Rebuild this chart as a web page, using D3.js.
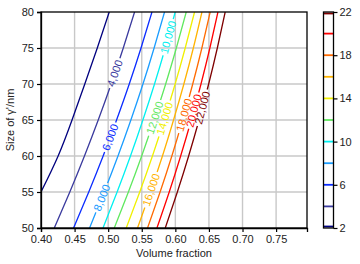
<!DOCTYPE html>
<html><head><meta charset="utf-8">
<script src="https://cdn.jsdelivr.net/npm/d3@7"></script>
<style>body{margin:0;background:#fff}svg{display:block;font-family:"Liberation Sans",Arial,sans-serif}</style>
</head><body><svg id="c" width="360" height="264"></svg>
<script>
// ---- data ----
const xTicks = [0.40,0.45,0.50,0.55,0.60,0.65,0.70,0.75];
const yTicks = [50,55,60,65,70,75,80];
const cbTicks = [2,6,10,14,18,22];
const levels = [2,4,6,8,10,12,14,16,18,20,22];
const levelColors = ["#00007f","#3a3a9e","#0a2cff","#1a9cff","#00f0f0","#5fe85f","#f0f000","#ffb300","#ff6a00","#ff0000","#7f0000"];
const sizes = [50,55,60,65,70,75,80];
const vf2  = [0.373,0.400,0.4255,0.4462,0.4652,0.4838,0.5016];
const vf4  = [0.4198,0.4429,0.4647,0.4852,0.5045,0.5225,0.5393];
const vf6  = [0.4485,0.4711,0.4925,0.5125,0.5314,0.5489,0.5652];
const vf8  = [0.4723,0.4940,0.5146,0.5338,0.5518,0.5684,0.5839];
const vf10 = [0.4923,0.5133,0.5332,0.5517,0.5690,0.5850,0.5998];
const vf12 = [0.5091,0.5301,0.5499,0.5683,0.5856,0.6015,0.6162];
const vf14 = [0.5269,0.5470,0.5659,0.5834,0.5997,0.6147,0.6286];
const vf16 = [0.5437,0.5628,0.5808,0.5973,0.6127,0.6268,0.6396];
const vf18 = [0.5586,0.5773,0.5948,0.6109,0.6259,0.6395,0.6519];
const vf20 = [0.5726,0.5909,0.6079,0.6237,0.6382,0.6514,0.6634];
const vf22 = [0.5850,0.6030,0.6198,0.6353,0.6496,0.6625,0.6742];
const contourVF = [vf2,vf4,vf6,vf8,vf10,vf12,vf14,vf16,vf18,vf20,vf22];
const labelText = [null,"4,000","6,000","8,000","10,000","12,000","14,000","16,000","18,000","20,000","22,000"];
const labelSize = [null,71.5,62.6,54.2,76.5,65.3,65.2,55.3,65.7,66.3,66.7];

// ---- layout ----
const svg = d3.select("#c");
const L=41,R=307,T=12,B=228;
const x = d3.scaleLinear().domain([0.40,0.796]).range([L,R]);
const y = d3.scaleLinear().domain([50,80]).range([B,T]);
const defs = svg.append("defs");
defs.append("clipPath").attr("id","clip").append("rect").attr("x",L).attr("y",T).attr("width",R-L).attr("height",B-T);
const mask = defs.append("mask").attr("id","lblmask").attr("maskUnits","userSpaceOnUse")
  .attr("x",0).attr("y",0).attr("width",360).attr("height",264);
mask.append("rect").attr("x",0).attr("y",0).attr("width",360).attr("height",264).attr("fill","#fff");

// grid
const grid = svg.append("g").attr("stroke","#c8c8c8").attr("stroke-width",1.4);
xTicks.slice(1).forEach(t=>grid.append("line").attr("x1",x(t)).attr("x2",x(t)).attr("y1",T).attr("y2",B));
yTicks.slice(1,-1).forEach(t=>grid.append("line").attr("y1",y(t)).attr("y2",y(t)).attr("x1",L).attr("x2",R));

// contour lines
const line = d3.line().x(d=>x(d[0])).y(d=>y(d[1])).curve(d3.curveNatural);
const lg = svg.append("g").attr("clip-path","url(#clip)");
const lines = lg.append("g").attr("mask","url(#lblmask)");
const labels = svg.append("g").attr("font-size",11);
levels.forEach((lv,i)=>{
  const pts = contourVF[i].map((v,j)=>[v,sizes[j]]);
  lines.append("path").attr("d",line(pts)).attr("fill","none").attr("stroke",levelColors[i]).attr("stroke-width",1.3);
  if(labelText[i]){
    const s = labelSize[i];
    const j = Math.min(sizes.length-2, Math.floor((s-50)/5));
    const f = (s-sizes[j])/(sizes[j+1]-sizes[j]);
    const v = contourVF[i][j]+f*(contourVF[i][j+1]-contourVF[i][j]);
    const dx = x(contourVF[i][j+1])-x(contourVF[i][j]);
    const dy = y(sizes[j+1])-y(sizes[j]);
    const ang = Math.atan2(dy,dx)*180/Math.PI;
    const cx=x(v), cy=y(s);
    const t = labels.append("text").attr("transform",`translate(${cx},${cy}) rotate(${ang})`)
      .attr("text-anchor","middle").attr("dy","0.35em").attr("fill",levelColors[i]).text(labelText[i]);
    const w = t.node().getComputedTextLength();
    mask.append("rect").attr("x",-w/2-2).attr("y",-5).attr("width",w+4).attr("height",10)
      .attr("transform",`translate(${cx},${cy}) rotate(${ang})`).attr("fill","#000");
  }
});

// frame & axes
svg.append("rect").attr("x",L).attr("y",T).attr("width",R-L).attr("height",B-T).attr("fill","none").attr("stroke","#000").attr("stroke-width",1.3);
const xa = svg.append("g").attr("transform",`translate(0,${B})`).call(d3.axisBottom(x).tickValues(xTicks).tickFormat(d3.format(".2f")).tickSize(4).tickPadding(3));
const ya = svg.append("g").attr("transform",`translate(${L},0)`).call(d3.axisLeft(y).tickValues(yTicks).tickSize(4).tickPadding(3));
[xa,ya].forEach(a=>{a.select(".domain").attr("stroke-width",1.3);a.selectAll("line").attr("stroke-width",1.2);a.selectAll("text").attr("font-size",11).attr("fill","#222").attr("font-family","Liberation Sans, Arial, sans-serif");});
svg.append("text").attr("x",(L+R)/2).attr("y",257).attr("text-anchor","middle").attr("font-size",11).attr("fill","#222").text("Volume fraction");
svg.append("text").attr("transform",`translate(14,${(T+B)/2}) rotate(-90)`).attr("text-anchor","middle").attr("font-size",11).attr("fill","#222").text("Size of γ'/nm");

// colorbar
const CL=323.5,CR=333.5;
const cy2 = d3.scaleLinear().domain([2,22]).range([B,T]);
const cb = svg.append("g");
cb.append("rect").attr("x",CL).attr("y",T).attr("width",CR-CL).attr("height",B-T).attr("fill","#fff");
levels.forEach((lv,i)=>{const yy=Math.max(T+1.5,Math.min(B-1.5,cy2(lv)));cb.append("line").attr("x1",CL).attr("x2",CR).attr("y1",yy).attr("y2",yy).attr("stroke",levelColors[i]).attr("stroke-width",1.8);});
cb.append("rect").attr("x",CL).attr("y",T).attr("width",CR-CL).attr("height",B-T).attr("fill","none").attr("stroke","#000").attr("stroke-width",1.3);
const ca = svg.append("g").attr("transform",`translate(${CR},0)`).call(d3.axisRight(cy2).tickValues(cbTicks).tickSize(4).tickPadding(2));
ca.select(".domain").remove();
ca.selectAll("line").attr("stroke-width",1.2);
ca.selectAll("text").attr("font-size",11).attr("fill","#222").attr("font-family","Liberation Sans, Arial, sans-serif");
</script></body></html>
